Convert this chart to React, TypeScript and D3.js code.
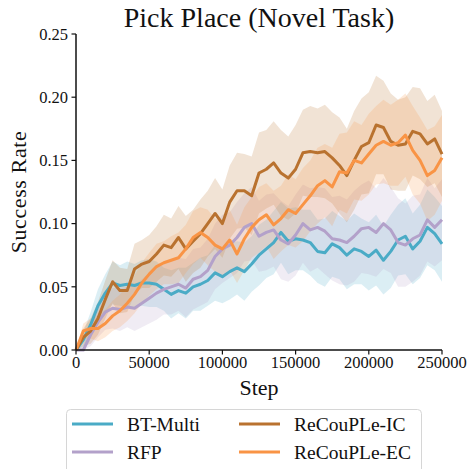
import React from "react";
import { scaleLinear, line, area, range } from "d3";

// x positions of the logged evaluations (every 5000 steps)
const steps = range(0, 250001, 5000);

const btMulti = [
  0, 0.008, 0.02, 0.035, 0.045, 0.053, 0.051, 0.052, 0.051, 0.053, 0.053,
  0.052, 0.048, 0.044, 0.047, 0.045, 0.05, 0.052, 0.055, 0.061, 0.058,
  0.062, 0.065, 0.062, 0.068, 0.075, 0.08, 0.085, 0.093, 0.086, 0.088,
  0.087, 0.085, 0.078, 0.077, 0.084, 0.081, 0.075, 0.08, 0.078, 0.074,
  0.079, 0.071, 0.078, 0.087, 0.09, 0.08, 0.086, 0.097, 0.092, 0.084,
];
const btMultiStd = [
  0, 0.006, 0.01, 0.013, 0.015, 0.017, 0.016, 0.018, 0.017, 0.018, 0.019,
  0.018, 0.017, 0.019, 0.018, 0.02, 0.019, 0.021, 0.02, 0.022, 0.021,
  0.022, 0.021, 0.023, 0.022, 0.024, 0.023, 0.025, 0.024, 0.026, 0.025,
  0.024, 0.026, 0.025, 0.027, 0.026, 0.025, 0.027, 0.028, 0.026, 0.027,
  0.028, 0.027, 0.029, 0.028, 0.03, 0.028, 0.029, 0.03, 0.029, 0.03,
];

const rfp = [
  0, 0.0, 0.012, 0.022, 0.03, 0.033, 0.032, 0.034, 0.033, 0.037, 0.041,
  0.045, 0.048, 0.05, 0.052, 0.049, 0.056, 0.058, 0.063, 0.074, 0.08,
  0.083, 0.089, 0.097, 0.1, 0.09, 0.093, 0.095, 0.087, 0.084, 0.091,
  0.1, 0.095, 0.097, 0.094, 0.088, 0.087, 0.085, 0.09, 0.096, 0.097,
  0.093, 0.1, 0.095, 0.085, 0.083, 0.088, 0.091, 0.103, 0.097, 0.103,
];
const rfpStd = [
  0, 0.004, 0.009, 0.012, 0.014, 0.016, 0.017, 0.016, 0.018, 0.019, 0.02,
  0.021, 0.02, 0.022, 0.021, 0.023, 0.024, 0.023, 0.025, 0.026, 0.027,
  0.026, 0.028, 0.027, 0.029, 0.028, 0.03, 0.029, 0.031, 0.03, 0.032,
  0.031, 0.033, 0.032, 0.034, 0.033, 0.035, 0.034, 0.036, 0.035, 0.037,
  0.035, 0.036, 0.034, 0.035, 0.033, 0.034, 0.032, 0.033, 0.031, 0.032,
];

const recoupleIC = [
  0, 0.01, 0.015, 0.025, 0.04, 0.054, 0.047, 0.047, 0.064, 0.068, 0.07,
  0.076, 0.083, 0.081, 0.089, 0.08, 0.086, 0.092, 0.1, 0.108, 0.1,
  0.117, 0.126, 0.126, 0.122, 0.14, 0.143, 0.148, 0.14, 0.136, 0.143,
  0.156, 0.157, 0.156, 0.157, 0.152, 0.146, 0.138, 0.15, 0.161, 0.164,
  0.178, 0.176, 0.165, 0.162, 0.163, 0.173, 0.171, 0.163, 0.167, 0.155,
];
const recoupleICStd = [
  0, 0.007, 0.01, 0.013, 0.015, 0.017, 0.018, 0.017, 0.02, 0.019, 0.021,
  0.022, 0.024, 0.023, 0.025, 0.026, 0.025, 0.027, 0.026, 0.028, 0.027,
  0.029, 0.03, 0.029, 0.031, 0.032, 0.031, 0.033, 0.034, 0.033, 0.035,
  0.034, 0.036, 0.035, 0.037, 0.036, 0.038, 0.037, 0.039, 0.038, 0.04,
  0.039, 0.037, 0.038, 0.036, 0.037, 0.035, 0.036, 0.034, 0.035, 0.034,
];

const recoupleEC = [
  0, 0.015, 0.017, 0.017, 0.021, 0.027, 0.031, 0.037, 0.044, 0.053, 0.06,
  0.066, 0.069, 0.071, 0.073, 0.08, 0.089, 0.093, 0.089, 0.083, 0.08,
  0.087, 0.076, 0.088, 0.097, 0.103, 0.107, 0.099, 0.104, 0.111, 0.108,
  0.115, 0.122, 0.13, 0.134, 0.129, 0.141, 0.14, 0.15, 0.148, 0.155,
  0.162, 0.165, 0.162, 0.164, 0.17, 0.158, 0.15, 0.138, 0.142, 0.152,
];
const recoupleECStd = [
  0, 0.006, 0.008, 0.01, 0.011, 0.012, 0.013, 0.014, 0.015, 0.016, 0.017,
  0.018, 0.017, 0.019, 0.02, 0.019, 0.021, 0.02, 0.022, 0.021, 0.023,
  0.024, 0.023, 0.025, 0.024, 0.026, 0.025, 0.027, 0.026, 0.028, 0.027,
  0.029, 0.028, 0.03, 0.029, 0.031, 0.03, 0.032, 0.031, 0.03, 0.032,
  0.031, 0.033, 0.032, 0.034, 0.033, 0.035, 0.034, 0.036, 0.035, 0.034,
];

const seriesNames = ["BT-Multi", "RFP", "ReCouPLe-IC", "ReCouPLe-EC"];
const seriesColors = ["#4aabc6", "#b3a1ca", "#b9722f", "#f99445"];
const seriesMeans = [btMulti, rfp, recoupleIC, recoupleEC];
const seriesStds = [btMultiStd, rfpStd, recoupleICStd, recoupleECStd];

const xTicks = [0, 50000, 100000, 150000, 200000, 250000];
const yTicks = [0, 0.05, 0.1, 0.15, 0.2, 0.25];

const FONT = "'Liberation Serif', 'DejaVu Serif', serif";

function Legend() {
  const rows = [
    [0, 2],
    [1, 3],
  ];
  return (
    <g>
      <rect x={66.5} y={409.5} width={355} height={64} rx={4} fill="white" stroke="#d6d6d6" />
      {rows.map((row, r) =>
        row.map((idx, c) => {
          const x0 = c === 0 ? 72 : 239;
          const y = r === 0 ? 424 : 452;
          return (
            <g key={idx}>
              <line x1={x0} x2={x0 + 41} y1={y} y2={y} stroke={seriesColors[idx]} strokeWidth={3} />
              <text x={x0 + 55} y={y} dy="0.35em" fontSize={19.5} fontFamily={FONT} fill="#111">
                {seriesNames[idx]}
              </text>
            </g>
          );
        })
      )}
    </g>
  );
}

export default function App() {
  const W = 471;
  const H = 469;
  const left = 76;
  const right = 442;
  const top = 34;
  const bottom = 350;

  const x = scaleLinear().domain([0, 250000]).range([left, right]);
  const y = scaleLinear().domain([0, 0.25]).range([bottom, top]);

  const lineGen = line<number>()
    .x((_, i) => x(steps[i]))
    .y((d) => y(d));

  return (
    <svg width={W} height={H} style={{ position: "absolute", left: 0, top: 0, background: "white" }}>
      <text x={259} y={27} textAnchor="middle" fontSize={28} fontFamily={FONT} fill="#111">
        Pick Place (Novel Task)
      </text>

      {seriesMeans.map((m, k) => {
        const s = seriesStds[k];
        const band = area<number>()
          .x((_, i) => x(steps[i]))
          .y0((d, i) => y(Math.max(0, d - s[i])))
          .y1((d, i) => y(d + s[i]));
        return <path key={"band" + k} d={band(m) || ""} fill={seriesColors[k]} fillOpacity={0.2} stroke="none" />;
      })}

      {seriesMeans.map((m, k) => (
        <path
          key={"line" + k}
          d={lineGen(m) || ""}
          fill="none"
          stroke={seriesColors[k]}
          strokeWidth={3}
          strokeLinejoin="round"
        />
      ))}

      {/* axes */}
      <line x1={left} x2={left} y1={top} y2={bottom} stroke="#111" strokeWidth={1.5} />
      <line x1={left} x2={right} y1={bottom} y2={bottom} stroke="#111" strokeWidth={1.5} />
      {yTicks.map((t) => (
        <g key={"yt" + t}>
          <line x1={left - 4.5} x2={left} y1={y(t)} y2={y(t)} stroke="#111" strokeWidth={1.2} />
          <text x={left - 8} y={y(t)} dy="0.35em" textAnchor="end" fontSize={16.5} fontFamily={FONT} fill="#111">
            {t.toFixed(2)}
          </text>
        </g>
      ))}
      {xTicks.map((t) => (
        <g key={"xt" + t}>
          <line x1={x(t)} x2={x(t)} y1={bottom} y2={bottom + 4.5} stroke="#111" strokeWidth={1.2} />
          <text x={x(t)} y={368} textAnchor="middle" fontSize={16.5} fontFamily={FONT} fill="#111">
            {t}
          </text>
        </g>
      ))}
      <text x={(left + right) / 2} y={395} textAnchor="middle" fontSize={22} fontFamily={FONT} fill="#111">
        Step
      </text>
      <text
        transform={`translate(26, ${(top + bottom) / 2}) rotate(-90)`}
        textAnchor="middle"
        fontSize={22}
        fontFamily={FONT}
        fill="#111"
        letterSpacing={0.6}
      >
        Success Rate
      </text>

      <Legend />
    </svg>
  );
}
